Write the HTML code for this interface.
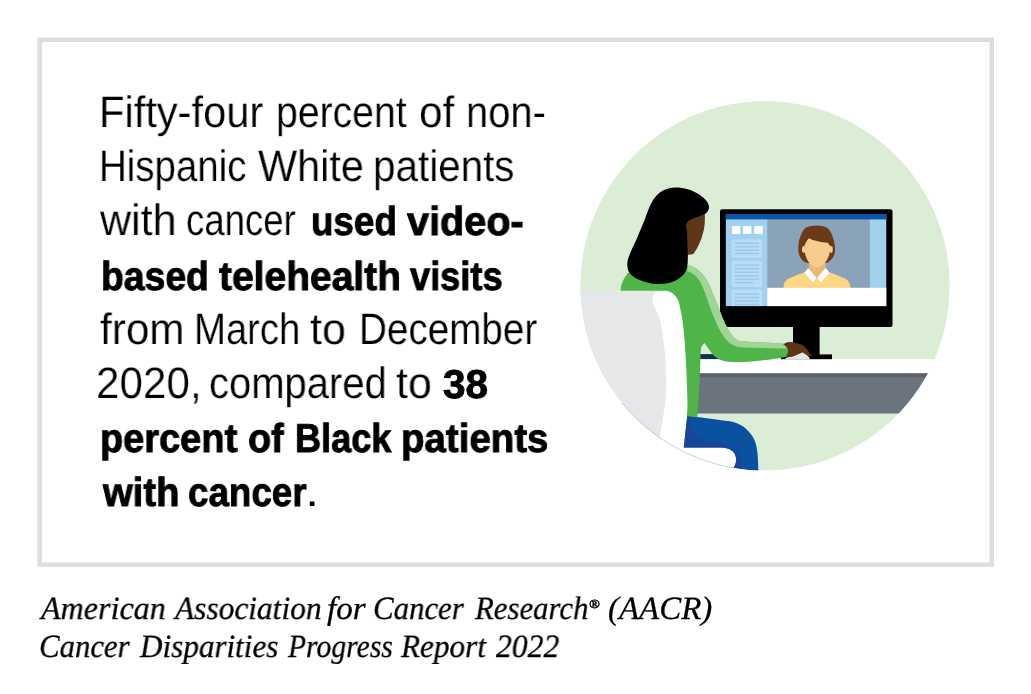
<!DOCTYPE html>
<html><head><meta charset="utf-8"><title>AACR Cancer Disparities Progress Report 2022</title>
<style>
html,body{margin:0;padding:0;background:#fff;}
body{width:1031px;height:694px;position:relative;overflow:hidden;font-family:"Liberation Sans",sans-serif;}
.t{will-change:transform;text-rendering:geometricPrecision;position:absolute;white-space:pre;line-height:1;color:#000;transform-origin:0 0;display:block;}
.reg{font-family:"Liberation Sans",sans-serif;font-weight:400;}
.bold{font-family:"Liberation Sans",sans-serif;font-weight:700;}
.ital{font-family:"Liberation Serif",serif;font-style:italic;}
</style></head><body>
<svg width="1031" height="694" viewBox="0 0 1031 694" style="position:absolute;left:0;top:0">
  <defs>
    <clipPath id="cc"><circle cx="765" cy="285.8" r="184.8"/></clipPath>
    <clipPath id="scr"><rect x="725.6" y="214" width="160.9" height="92.3"/></clipPath>
  </defs>
  <!-- frame -->
  <rect x="39.7" y="39.8" width="952.1" height="524.8" fill="none" stroke="#dcddde" stroke-width="4.4"/>
  <g clip-path="url(#cc)">
    <!-- background -->
    <circle cx="765" cy="285.8" r="185" fill="#dcedd6"/>
    <!-- desk -->
    <rect x="696" y="359.1" width="264" height="14.3" fill="#ffffff"/>
    <rect x="696" y="373.4" width="264" height="40.1" fill="#6b737d"/>
    <rect x="696" y="373.4" width="264" height="3.8" fill="#5a626b"/>
    <!-- keyboard -->
    <rect x="700" y="354.1" width="20" height="5" fill="#0f3346"/>
    <!-- monitor -->
    <rect x="793" y="320" width="26.6" height="36" fill="#000"/>
    <rect x="781" y="354.4" width="51" height="4.8" fill="#000"/>
    <rect x="720" y="209.3" width="172.5" height="117.6" rx="2" fill="#000"/>
    <g clip-path="url(#scr)">
      <rect x="725.6" y="214" width="160.9" height="92.3" fill="#a0d2f0"/>
      <rect x="767.3" y="219" width="102.6" height="69" fill="#8ba3b8"/>
      <!-- on-screen person -->
      <path d="M783.3 288 C783.6 283.5 785 280.6 788.5 278.6 C793.5 276 799 274.2 804.6 272.4 L816.8 268 L829.1 272.4 C834.8 274.2 840 276 845 278.6 C848.7 280.6 850.2 283.5 850.4 288 Z" fill="#fdd682"/>
      <path d="M808.9 262 L825.5 262 L825.5 270 L817 279 L808.9 270 Z" fill="#ecb974"/>
      <path d="M808.2 268 L804.3 272.7 L813.2 282.5 L816.4 277.7 Z" fill="#fff"/>
      <path d="M825.5 268 L829.8 272.7 L820.4 282.5 L817.3 277.7 Z" fill="#fff"/>
      <path d="M816.5 225.5 C812.5 225.5 809 226.2 806.2 227.6 C804 229.2 802.5 231.4 801.4 234.1 C800 237 799 240.3 798.6 243.8 C798.2 246.8 798.2 249.6 798.6 252.4 C799.1 255 800 257.1 801.4 258.9 C802.7 260.6 804.3 261.9 806.2 262.7 L827.3 262.7 C829.4 261.6 831.2 260 832.7 257.8 C834 255.9 834.7 253.8 834.9 251.4 C835.1 248.8 835 246.3 834.5 243.8 C833.9 240.3 832.9 237 831.6 234.1 C830.4 231.4 828.8 229.2 826.8 227.6 C824 226.2 820.5 225.5 816.5 225.5 Z" fill="#6a3b16"/>
      <ellipse cx="803.6" cy="249.4" rx="1.6" ry="3.4" fill="#f6cd8f"/>
      <ellipse cx="831.2" cy="249.4" rx="1.6" ry="3.4" fill="#f6cd8f"/>
      <path d="M808.9 238.3 C806.8 240.5 805.2 243.2 804.4 246 C804.2 250 804.8 254 806.2 257.5 C807.3 260.3 808.9 262.6 811 264.4 C812.9 266 814.9 267 817 267 C819.2 267 821.3 266 823.2 264.4 C825.3 262.6 827 260.3 828.2 257.5 C829.7 254 830.4 250.2 830.4 246.3 C829.6 245 828.7 243.8 827.8 242.7 C824.4 242.6 820.6 242.1 817 241.1 C814 240.5 811.3 239.6 808.9 238.3 Z" fill="#f6cd8f"/>
      <!-- white bar -->
      <rect x="767.3" y="287.8" width="119.3" height="18.6" fill="#fff"/>
      <!-- title bar -->
      <rect x="725.6" y="214" width="160.9" height="5.4" fill="#0a56a6"/>
      <!-- squares -->
      <rect x="732" y="225.9" width="8.4" height="8.1" rx="1" fill="#fff"/>
      <rect x="743" y="225.9" width="8.4" height="8.1" rx="1" fill="#fff"/>
      <rect x="754.2" y="225.9" width="8.6" height="8.1" rx="1" fill="#fff"/>
      <!-- list blocks -->
      <rect x="731.6" y="239.5" width="30.6" height="18.3" rx="1.5" fill="#badcf4"/>
      <rect x="731.6" y="260.8" width="30.6" height="26.1" rx="1.5" fill="#badcf4"/>
      <path d="M731.6 306.3V291.3A1.5 1.5 0 0 1 733.1 289.8H760.7A1.5 1.5 0 0 1 762.2 291.3V306.3Z" fill="#badcf4"/>
      <g stroke="#96caee" stroke-width="1.5">
        <path d="M734.8 243.3H759M734.8 246.7H759M734.8 250.2H759M734.8 253.6H759"/>
        <path d="M734.8 265.2H759M734.8 268.7H759M734.8 272.2H759M734.8 275.7H759M734.8 279.2H759M734.8 282.6H753"/>
        <path d="M734.8 294H759M734.8 297.5H759M734.8 301H759M734.8 304.5H759"/>
      </g>
    </g>
    <!-- chair back (gray) -->
    <path d="M570 290.7 L672 290.7 C679 291.5 684 298 686 310 C688.5 330 690 350 690 380 L690 418 L686 447 L685 480 L570 480 Z" fill="#fff"/>
    <path d="M570 290.7 L657.4 290.7 C654.5 292.5 652.6 295.5 652.4 299.3 C652.6 301.5 653.1 303.4 653.9 305.3 L658.4 315.4 C659.7 319 660.7 322.7 661.5 326.5 C662.2 330 662.6 334 662.9 337.6 C664.5 347 665.5 356 665.8 366.5 C666.2 376 666.2 386 665.8 395.3 C665.3 403 664.3 411 662.9 418.3 C662 424 661 430 660 435.6 L655 470 L570 470 Z" fill="#e6e7e8"/>
    <!-- seat (white) -->
    <path d="M683 440 L740 440 L740 480 L670 480 Z" fill="#fff"/>
    <!-- pants -->
    <path d="M687.3 415.6 L697.6 417.1 L716.1 419.4 C721 420 725.5 420.5 729.9 421.3 C733.3 422 736.3 422.9 739.1 424.2 C742.3 425.7 745 427.6 747.2 430 C749.6 432.3 751.5 434.6 752.9 436.9 C754.6 439.8 755.7 442.9 756.4 446.1 C757.2 449.8 757.6 453.6 757.8 457.6 L758.7 476 L733.5 476 C733.6 473 733.7 470 733.9 467.4 C734.8 465.8 735.5 464 735.9 462.2 C736.3 460.3 736.2 458.4 735.7 456.5 C735.2 454.5 734.2 452.8 732.8 451.3 C731.3 449.9 729.6 448.9 727.6 448.4 C725.4 447.8 723.1 447.5 720.7 447.5 L683.8 447.5 Z" fill="#0a519f"/>
    <path d="M687.3 415.6 L689.6 416 C689.3 419.7 689.7 423.2 690.7 426.5 C691.7 429.6 693.2 432.3 695.3 434.6 C697.8 437.1 700.9 438.8 704.6 439.7 C708.4 440.7 712.2 441.5 716.1 442.1 C719.2 442.6 722.3 443.3 725.3 444.4 C728.4 445.2 731.1 446.5 733.4 448.4 C735.8 450.3 737.7 452.6 739.1 455.3 C740.3 457.5 741.3 459.8 742 462.2 C742.5 464.3 742.8 466.4 742.8 468.5 L743 476 L733.5 476 C733.6 473 733.7 470 733.9 467.4 C734.8 465.8 735.5 464 735.9 462.2 C736.3 460.3 736.2 458.4 735.7 456.5 C735.2 454.5 734.2 452.8 732.8 451.3 C731.3 449.9 729.6 448.9 727.6 448.4 C725.4 447.8 723.1 447.5 720.7 447.5 L683.8 447.5 Z" fill="#18459a"/>
    <!-- body -->
    <path d="M620.4 290.8 C621 284 623.5 278 628 273 L686.5 266 L687.9 265 C690.8 265.6 693.4 266.7 695.9 268.5 C698.9 270.5 701.5 272.9 703.8 275.6 C706.3 279 708.4 282.7 710.1 286.7 L716.5 302.6 L722.8 318.4 C724.7 322.8 726.8 327 729.1 331.1 C730.7 333.8 732.6 336.2 734.7 338.2 C736.3 339.8 738.1 340.8 740.2 341.1 C743.9 341.6 747.6 341.8 751.3 341.9 L768.8 342.7 L783.8 343.8 C785.8 345 787.2 346.6 787.8 348.5 C788.2 351 788 354 787 356.7 L768.8 359.7 L751.3 361.4 C747.1 361.8 742.9 362.1 738.7 362.2 C734.4 362.2 730.1 362 726 361.5 C723.1 361 720.4 360.1 718 358.8 C715.6 357.3 713.5 355.5 711.7 353.3 L704.6 343 C702.8 344.5 701.6 346 701.1 348.1 C700.7 350.5 700.5 353 700.5 355.9 L700.1 368.9 L699.2 388.3 L697.9 407.8 L697.2 417.5 L686.7 416 L687.5 407.8 C687.4 399 687.2 390 686.8 381.8 C686.5 373 686.1 364 685.6 355.9 C685.1 347 684.4 338 683.6 330 C682.9 322.5 682 316 680.6 310.4 C680 307 679.4 304 678.6 301.3 C677.6 298.8 676.3 296.8 674.6 295.2 C672.4 293 669.7 291.4 666.5 290.8 Z" fill="#50b548"/>
    <!-- light stripe -->
    <path d="M687.9 264.6 C690.8 265.5 693.4 266.8 695.9 268.5 C698.9 270.5 701.5 272.9 703.8 275.6 C706.3 279 708.4 282.7 710.1 286.7 L716.5 302.6 L722.8 318.4 C724.7 322.8 726.8 327 729.1 331.1 C730.7 333.8 732.6 336.2 734.7 338.2 C736.3 339.8 738.1 340.8 740.2 341.1 C743.9 341.6 747.6 341.8 751.3 341.9 L768.8 342.7 L783.8 343.8 C785.5 345 786.6 346.6 787 348.5 L768.8 348.2 L751.3 347.7 C747 347.6 742.8 347.4 738.7 346.9 C735.8 346.4 733.1 345.4 730.7 343.8 C728.3 342 726.2 339.9 724.4 337.4 C722 334.2 719.8 330.8 718 327.1 L711.7 312.1 L706.2 296.2 C704.6 291.5 702.8 287 700.6 282.7 C698.9 279.6 696.8 277 694.3 274.8 C692.1 273 689.7 271.7 687.1 270.9 Z" fill="#a1d596"/>
    <!-- mouse -->
    <path d="M784.5 359.3 L786.5 357.4 L793.8 356 L799.2 353.6 L802.6 352 C804.5 352.8 806 354 806.9 355 C808.5 356.3 809.5 357.5 809.8 359.3 Z" fill="#e4e5e7"/>
    <!-- hand -->
    <path d="M783.2 344.3 C785 343.1 787 342.4 789 342.1 C791.3 342 793.6 342.3 795.8 342.9 C798 343.2 800 343.8 801.9 344.6 C803.5 345.6 804.9 346.8 806 348.3 L809.4 352.4 L811.5 355.5 C811.1 356 810.6 356.2 810 356.1 C808.8 356 807.7 355.6 806.7 355.1 C805.2 354.3 803.9 353.3 802.6 352.3 C801.5 352.7 800.3 353.2 799.2 353.8 L793.8 356.1 C791.8 356.7 789.7 357 787.6 357.2 L786 357.2 C787.3 355 788 352.5 788 349.7 C787.2 347.5 785.5 345.7 783.2 344.3 Z" fill="#5e3417"/>
    <!-- face -->
    <path d="M684 222 L704.8 214 C705 218 704.9 222.5 704.4 226.6 C704 229.5 703.4 232 702.6 234.4 C701.9 237 701 239.6 700 242.1 C699 244.6 697.9 246.9 696.6 249.1 L693.6 253.8 C691.8 254.5 690 254.8 688 254.7 L684 256 Z" fill="#603618"/>
    <!-- hair -->
    <path d="M675.7 187.5 C670 187.6 664.5 189.3 660.1 192.3 C656.5 195 653.7 198.5 651.5 202.7 C648.8 208 646.7 214 644.6 220 L635.9 240.7 C633.3 246 630.8 251 629 256.3 C627.8 259.3 627.2 262 627.3 264.9 C627.4 268.3 628.2 271.2 629.9 273.6 C632.8 277 636.8 279 641.1 280.5 C645.6 282.2 650.2 283.4 655 283.9 C659.6 284.2 664.3 284 668.8 283.1 C673.3 282 677.5 279.9 680.9 277 C683.8 274.6 685.8 271.7 686.9 268.4 C687.8 264 688 259.3 687.8 254.5 L687 232 C686.4 229.6 686 227.3 686 225 C686.6 222.8 687.8 221.3 689.5 220.3 C691.8 219 694.1 218.2 696.5 217.4 L704.2 214.4 C706.6 213 708.2 211 708.9 208.7 C709.2 206.5 708.8 204.5 707.7 202.7 C705.8 199.5 703.1 197 699.9 194.9 C696.2 192.4 692.2 190.5 687.8 189.2 C683.9 188.1 679.8 187.5 675.7 187.5 Z" fill="#000"/>
  </g>
  <path d="M622 403 A184.8 184.8 0 0 0 735 468.2" fill="none" stroke="#2e3f96" stroke-opacity=".4" stroke-width=".6"/>
</svg>

<span class="t reg" style="left:99.25px;top:90.90px;font-size:44px;-webkit-text-stroke:0.2px #fff;transform:scaleX(0.9462)">Fifty-four</span>
<span class="t reg" style="left:275.53px;top:90.90px;font-size:44px;-webkit-text-stroke:0.2px #fff;transform:scaleX(0.8908)">percent</span>
<span class="t reg" style="left:419.38px;top:90.90px;font-size:44px;-webkit-text-stroke:0.2px #fff;transform:scaleX(0.9612)">of</span>
<span class="t reg" style="left:465.58px;top:90.90px;font-size:44px;-webkit-text-stroke:0.2px #fff;transform:scaleX(0.9060)">non-</span>
<span class="t reg" style="left:99.32px;top:145.05px;font-size:44px;-webkit-text-stroke:0.2px #fff;transform:scaleX(0.8739)">Hispanic</span>
<span class="t reg" style="left:257.53px;top:145.05px;font-size:44px;-webkit-text-stroke:0.2px #fff;transform:scaleX(0.9409)">White</span>
<span class="t reg" style="left:373.15px;top:145.05px;font-size:44px;-webkit-text-stroke:0.2px #fff;transform:scaleX(0.9177)">patients</span>
<span class="t reg" style="left:100.16px;top:199.20px;font-size:44px;-webkit-text-stroke:0.2px #fff;transform:scaleX(0.9787)">with</span>
<span class="t reg" style="left:185.64px;top:199.20px;font-size:44px;-webkit-text-stroke:0.2px #fff;transform:scaleX(0.8302)">cancer</span>
<span class="t bold" style="left:310.87px;top:202.11px;font-size:40.3px;-webkit-text-stroke:0.9px #000;transform:scaleX(0.9125)">used</span>
<span class="t bold" style="left:406.69px;top:202.11px;font-size:40.3px;-webkit-text-stroke:0.9px #000;transform:scaleX(0.9831)">video-</span>
<span class="t bold" style="left:101.01px;top:256.61px;font-size:40.3px;-webkit-text-stroke:0.9px #000;transform:scaleX(0.9268)">based</span>
<span class="t bold" style="left:218.60px;top:256.61px;font-size:40.3px;-webkit-text-stroke:0.9px #000;transform:scaleX(0.9677)">telehealth</span>
<span class="t bold" style="left:409.95px;top:256.61px;font-size:40.3px;-webkit-text-stroke:0.9px #000;transform:scaleX(0.8978)">visits</span>
<span class="t reg" style="left:100.28px;top:307.50px;font-size:44px;-webkit-text-stroke:0.2px #fff;transform:scaleX(0.9602)">from</span>
<span class="t reg" style="left:194.44px;top:307.50px;font-size:44px;-webkit-text-stroke:0.2px #fff;transform:scaleX(0.8693)">March</span>
<span class="t reg" style="left:310.27px;top:307.50px;font-size:44px;-webkit-text-stroke:0.2px #fff;transform:scaleX(0.9794)">to</span>
<span class="t reg" style="left:358.61px;top:307.50px;font-size:44px;-webkit-text-stroke:0.2px #fff;transform:scaleX(0.8782)">December</span>
<span class="t reg" style="left:96.14px;top:361.65px;font-size:44px;-webkit-text-stroke:0.2px #fff;transform:scaleX(0.9581)">2020,</span>
<span class="t reg" style="left:208.58px;top:361.65px;font-size:44px;-webkit-text-stroke:0.2px #fff;transform:scaleX(0.9085)">compared</span>
<span class="t reg" style="left:395.77px;top:361.65px;font-size:44px;-webkit-text-stroke:0.2px #fff;transform:scaleX(0.9765)">to</span>
<span class="t bold" style="left:443.20px;top:364.56px;font-size:40.3px;-webkit-text-stroke:0.9px #000;transform:scaleX(1.0046)">38</span>
<span class="t bold" style="left:100.48px;top:418.71px;font-size:40.3px;-webkit-text-stroke:0.9px #000;transform:scaleX(0.9424)">percent</span>
<span class="t bold" style="left:248.13px;top:418.71px;font-size:40.3px;-webkit-text-stroke:0.9px #000;transform:scaleX(0.9396)">of</span>
<span class="t bold" style="left:294.68px;top:418.71px;font-size:40.3px;-webkit-text-stroke:0.9px #000;transform:scaleX(0.8972)">Black</span>
<span class="t bold" style="left:400.55px;top:418.71px;font-size:40.3px;-webkit-text-stroke:0.9px #000;transform:scaleX(0.9543)">patients</span>
<span class="t bold" style="left:102.51px;top:472.86px;font-size:40.3px;-webkit-text-stroke:0.9px #000;transform:scaleX(0.9489)">with</span>
<span class="t bold" style="left:187.56px;top:472.86px;font-size:40.3px;-webkit-text-stroke:0.9px #000;transform:scaleX(0.9128)">cancer</span>
<span class="t reg" style="left:304.81px;top:469.95px;font-size:44px;-webkit-text-stroke:0.2px #fff;transform:scaleX(1.1733)">.</span>
<span class="t ital" style="left:40.68px;top:593.45px;font-size:32.5px;-webkit-text-stroke:0.3px #000;transform:scaleX(0.9878)">American</span>
<span class="t ital" style="left:175.13px;top:593.45px;font-size:32.5px;-webkit-text-stroke:0.3px #000;transform:scaleX(0.9659)">Association</span>
<span class="t ital" style="left:326.55px;top:593.45px;font-size:32.5px;-webkit-text-stroke:0.3px #000;transform:scaleX(1.0172)">for</span>
<span class="t ital" style="left:373.14px;top:593.45px;font-size:32.5px;-webkit-text-stroke:0.3px #000;transform:scaleX(0.9489)">Cancer</span>
<span class="t ital" style="left:475.44px;top:593.45px;font-size:32.5px;-webkit-text-stroke:0.3px #000;transform:scaleX(0.9474)">Research</span>
<span class="t ital" style="left:589.34px;top:597.60px;font-size:12.5px;-webkit-text-stroke:0.55px #000;transform:scaleX(1.1222)">®</span>
<span class="t ital" style="left:607.59px;top:593.45px;font-size:32.5px;-webkit-text-stroke:0.3px #000;transform:scaleX(1.0129)">(AACR)</span>
<span class="t ital" style="left:38.84px;top:631.25px;font-size:32.5px;-webkit-text-stroke:0.3px #000;transform:scaleX(0.9468)">Cancer</span>
<span class="t ital" style="left:140.48px;top:631.25px;font-size:32.5px;-webkit-text-stroke:0.3px #000;transform:scaleX(0.9576)">Disparities</span>
<span class="t ital" style="left:287.93px;top:631.25px;font-size:32.5px;-webkit-text-stroke:0.3px #000;transform:scaleX(0.9120)">Progress</span>
<span class="t ital" style="left:400.74px;top:631.25px;font-size:32.5px;-webkit-text-stroke:0.3px #000;transform:scaleX(0.9598)">Report</span>
<span class="t ital" style="left:495.50px;top:631.25px;font-size:32.5px;-webkit-text-stroke:0.3px #000;transform:scaleX(0.9736)">2022</span>

</body></html>
